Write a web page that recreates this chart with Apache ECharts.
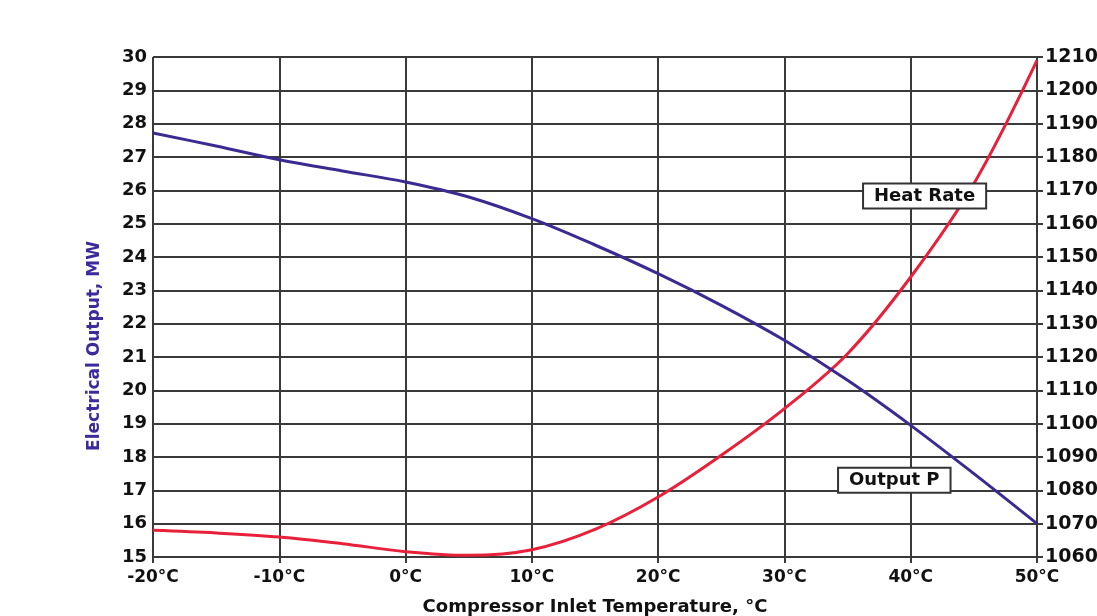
<!DOCTYPE html>
<html>
<head>
<meta charset="utf-8">
<script src="https://cdn.jsdelivr.net/npm/echarts@6/dist/echarts.min.js"></script>
<style>html,body{margin:0;padding:0;background:#fff;}#c{width:1097px;height:616px;}</style>
</head>
<body>
<div id="c"></div>
<script>
const temps = [-20, -15, -10, -5, 0, 5, 10, 15, 20, 25, 30, 35, 40, 45, 50];
const outputP = [27.72, 27.33, 26.92, 26.58, 26.25, 25.8, 25.15, 24.36, 23.5, 22.55, 21.5, 20.3, 18.95, 17.5, 16.0];
const heatRate = [1068, 1067.2, 1066, 1064, 1061.6, 1060.5, 1062.2, 1068.3, 1078, 1090.5, 1104.5, 1121, 1144, 1172, 1209];
const leftTicks = {min: 15, max: 30, interval: 1};
const rightTicks = {min: 1060, max: 1210, interval: 10};
const xTicks = {min: -20, max: 50, interval: 10};

const font = '"DejaVu Sans", sans-serif';
const gridColor = '#3a3a3a';
const chart = echarts.init(document.getElementById('c'));
const boxLabel = {
  show: true, position: 'inside', formatter: '{b}', color: '#111',
  fontFamily: font, fontWeight: 'bold', fontSize: 18,
  backgroundColor: '#fff', borderColor: '#333', borderWidth: 2, padding: [3, 10, 2, 10]
};
chart.setOption({
  animation: false,
  grid: {left: 153, right: 60, top: 57, bottom: 59, outerBoundsMode: 'none', containLabel: false},
  xAxis: {
    type: 'value', min: xTicks.min, max: xTicks.max, interval: xTicks.interval,
    name: 'Compressor Inlet Temperature, °C', nameLocation: 'middle', nameGap: 41,
    nameTextStyle: {fontFamily: font, fontWeight: 'bold', fontSize: 18, color: '#111'},
    axisLine: {show: true, lineStyle: {color: gridColor, width: 2}},
    axisTick: {show: true, length: 6, lineStyle: {color: gridColor, width: 2}},
    axisLabel: {formatter: v => v + '°C', fontFamily: font, fontWeight: 'bold', fontSize: 17, color: '#111', margin: 12},
    splitLine: {show: true, lineStyle: {color: gridColor, width: 2}}
  },
  yAxis: [{
    type: 'value', min: leftTicks.min, max: leftTicks.max, interval: leftTicks.interval,
    axisLine: {show: true, lineStyle: {color: gridColor, width: 2}},
    axisTick: {show: true, length: 6, lineStyle: {color: gridColor, width: 2}},
    axisLabel: {formatter: v => String(v), fontFamily: font, fontWeight: 'bold', fontSize: 18, color: '#111', margin: 6},
    splitLine: {show: true, lineStyle: {color: gridColor, width: 2}}
  }, {
    type: 'value', position: 'right', min: rightTicks.min, max: rightTicks.max, interval: rightTicks.interval,
    axisLine: {show: true, lineStyle: {color: gridColor, width: 2}},
    axisTick: {show: true, length: 6, lineStyle: {color: gridColor, width: 2}},
    axisLabel: {formatter: v => String(v), fontFamily: font, fontWeight: 'bold', fontSize: 19, color: '#111', margin: 8},
    splitLine: {show: false}
  }],
  graphic: [{
    type: 'text', x: 95, y: 346, rotation: Math.PI / 2,
    style: {text: 'Electrical Output, MW', fontFamily: font, fontWeight: 'bold', fontSize: 17,
      fill: '#3d2a9b', align: 'center', verticalAlign: 'middle'}
  }],
  series: [{
    name: 'Output P', type: 'line', smooth: 0.35, showSymbol: false, yAxisIndex: 0,
    data: temps.map((t, i) => [t, outputP[i]]),
    lineStyle: {color: '#3b2a92', width: 3}, z: 3,
    markPoint: {
      symbol: 'rect', symbolSize: 1, itemStyle: {color: 'rgba(0,0,0,0)'}, label: boxLabel,
      data: [{name: 'Heat Rate', coord: [41.1, 25.83]}, {name: 'Output P', coord: [38.7, 17.3]}]
    }
  }, {
    name: 'Heat Rate', type: 'line', smooth: 0.35, showSymbol: false, yAxisIndex: 1,
    data: temps.map((t, i) => [t, heatRate[i]]),
    lineStyle: {color: '#e8203a', width: 3}, z: 2
  }]
});
</script>
</body>
</html>
